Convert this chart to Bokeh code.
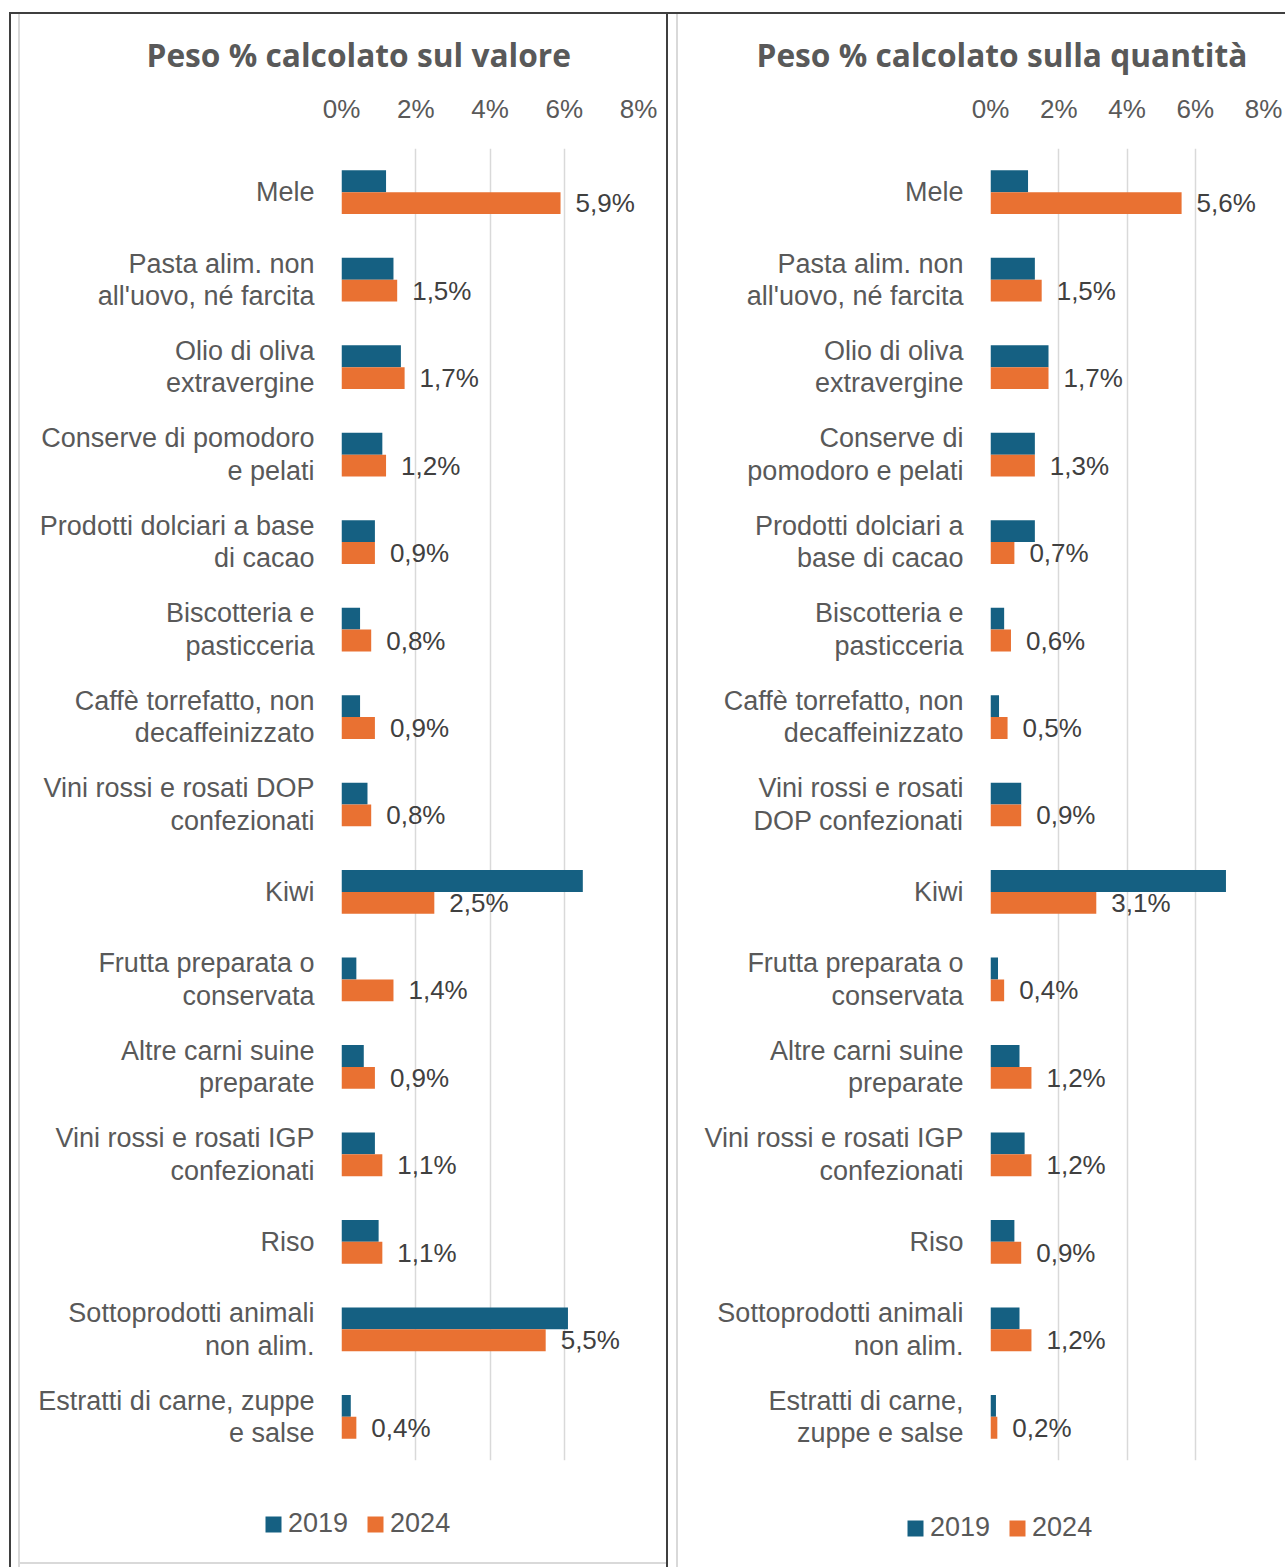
from bokeh.plotting import figure
from bokeh.models import (ColumnDataSource, FactorRange, Range1d, FixedTicker,
                          PrintfTickFormatter, Legend, LegendItem)
from bokeh.transform import dodge
from bokeh.layouts import row, column
from bokeh.embed import file_html
from bokeh.resources import INLINE
from bokeh.core.properties import value

# ---------------- data ----------------
cats_valore = [
    "Mele", "Pasta alim. non\nall'uovo, né farcita", "Olio di oliva\nextravergine",
    "Conserve di pomodoro\ne pelati", "Prodotti dolciari a base\ndi cacao",
    "Biscotteria e\npasticceria", "Caffè torrefatto, non\ndecaffeinizzato",
    "Vini rossi e rosati DOP\nconfezionati", "Kiwi", "Frutta preparata o\nconservata",
    "Altre carni suine\npreparate", "Vini rossi e rosati IGP\nconfezionati", "Riso",
    "Sottoprodotti animali\nnon alim.", "Estratti di carne, zuppe\ne salse",
]
cats_quantita = [
    "Mele", "Pasta alim. non\nall'uovo, né farcita", "Olio di oliva\nextravergine",
    "Conserve di\npomodoro e pelati", "Prodotti dolciari a\nbase di cacao",
    "Biscotteria e\npasticceria", "Caffè torrefatto, non\ndecaffeinizzato",
    "Vini rossi e rosati\nDOP confezionati", "Kiwi", "Frutta preparata o\nconservata",
    "Altre carni suine\npreparate", "Vini rossi e rosati IGP\nconfezionati", "Riso",
    "Sottoprodotti animali\nnon alim.", "Estratti di carne,\nzuppe e salse",
]
valore_2019 = [1.2, 1.4, 1.6, 1.1, 0.9, 0.5, 0.5, 0.7, 6.5, 0.4, 0.6, 0.9, 1.0, 6.1, 0.25]
valore_2024 = [5.9, 1.5, 1.7, 1.2, 0.9, 0.8, 0.9, 0.8, 2.5, 1.4, 0.9, 1.1, 1.1, 5.5, 0.4]
quantita_2019 = [1.1, 1.3, 1.7, 1.3, 1.3, 0.4, 0.25, 0.9, 6.9, 0.22, 0.85, 1.0, 0.7, 0.85, 0.16]
quantita_2024 = [5.6, 1.5, 1.7, 1.3, 0.7, 0.6, 0.5, 0.9, 3.1, 0.4, 1.2, 1.2, 0.9, 1.2, 0.2]
x_ticks = [0, 2, 4, 6, 8]
series_names = ["2019", "2024"]
titles = ["Peso % calcolato sul valore", "Peso % calcolato sulla quantità"]

C19 = "#156082"
C24 = "#E97132"
TXT = "#595959"
VAL = "#404040"
GRID = "#D9D9D9"
DARK = "#3F3F3F"
FONT = "Liberation Sans"
H_MAIN = 1470
H_LEG = 97
FRAME_TOP = 148
FRAME_BOTTOM = 1460


def lines_css(lines):
    """lines: list of (x, y, w, h, color) boxes drawn as CSS background gradients."""
    imgs = ", ".join(f"linear-gradient({c}, {c})" for (_, _, _, _, c) in lines)
    sizes = ", ".join(f"{w}px {h}px" for (_, _, w, h, _) in lines)
    pos = ", ".join(f"{x}px {y}px" for (x, y, _, _, _) in lines)
    return {"background-image": imgs, "background-size": sizes,
            "background-position": pos, "background-repeat": "no-repeat",
            "background-color": "white"}


def make_panel(cats, v19, v24, title, width, fl, fr, title_offset, legend_xy, borders):
    lbl = [f"{v:.1f}".replace(".", ",") + "%" for v in v24]
    src = ColumnDataSource(dict(cat=cats, v19=v19, v24=v24, lbl=lbl))
    p = figure(width=width, height=H_MAIN, output_backend="svg", toolbar_location=None,
               y_range=FactorRange(*reversed(cats), range_padding=0),
               x_range=Range1d(0, 8), x_axis_location="above",
               min_border_left=fl, min_border_right=fr, min_border_top=FRAME_TOP,
               min_border_bottom=H_MAIN - FRAME_BOTTOM)
    p.outline_line_color = None
    p.background_fill_color = "white"
    p.border_fill_color = None

    p.hbar(y=dodge("cat", 0.125, range=p.y_range), right="v19", left=0, height=0.25,
           source=src, fill_color=C19, line_color=None)
    p.hbar(y=dodge("cat", -0.125, range=p.y_range), right="v24", left=0, height=0.25,
           source=src, fill_color=C24, line_color=None)
    p.text(x="v24", y=dodge("cat", -0.125, range=p.y_range), text="lbl", source=src,
           x_offset=15, text_align="left", text_baseline="middle",
           text_font=value(FONT), text_font_size="26px", text_color=VAL)

    # axes
    xa = p.xaxis[0]
    xa.ticker = FixedTicker(ticks=x_ticks)
    xa.formatter = PrintfTickFormatter(format="%d%%")
    xa.axis_line_color = None
    xa.major_tick_line_color = None
    xa.minor_tick_line_color = None
    xa.major_tick_out = 0
    xa.major_label_standoff = 25
    xa.major_label_text_font = FONT
    xa.major_label_text_font_size = "26px"
    xa.major_label_text_color = TXT

    ya = p.yaxis[0]
    ya.axis_line_color = None
    ya.major_tick_line_color = None
    ya.minor_tick_line_color = None
    ya.major_tick_out = 0
    ya.major_label_standoff = 27
    ya.major_label_text_font = FONT
    ya.major_label_text_font_size = "27px"
    ya.major_label_text_color = TXT
    ya.major_label_text_line_height = 1.08

    p.xgrid.ticker = FixedTicker(ticks=x_ticks)
    p.xgrid.grid_line_color = GRID
    p.xgrid.grid_line_width = 1.5
    p.ygrid.grid_line_color = None

    # title
    p.title.text = title
    p.title.align = "left"
    p.title.offset = title_offset
    p.title.standoff = 29
    p.title.text_font = "Open Sans"
    p.title.text_font_style = "bold"
    p.title.text_font_size = "31.7px"
    p.title.text_color = TXT

    # legend strip below the chart (zero-width proxy bars only carry the legend swatches)
    lf = figure(width=width, height=H_LEG, output_backend="svg", toolbar_location=None,
                x_range=Range1d(0, 1), y_range=Range1d(0, 1), min_border=0)
    lf.axis.visible = False
    lf.grid.visible = False
    lf.outline_line_color = None
    lf.background_fill_color = None
    lf.border_fill_color = None
    proxy = ColumnDataSource(dict(y=[0.5], left=[0], right=[0]))
    l19 = lf.hbar(y="y", left="left", right="right", height=0.25, source=proxy,
                  fill_color=C19, line_color=None)
    l24 = lf.hbar(y="y", left="left", right="right", height=0.25, source=proxy,
                  fill_color=C24, line_color=None)
    legend = Legend(items=[LegendItem(label=series_names[0], renderers=[l19]),
                           LegendItem(label=series_names[1], renderers=[l24])],
                    location=legend_xy, orientation="horizontal", glyph_width=20,
                    glyph_height=20, label_standoff=5, spacing=17, padding=0, margin=0,
                    label_text_font=FONT, label_text_font_size="27px", label_text_color=TXT,
                    border_line_color=None, background_fill_alpha=0)
    lf.add_layout(legend)
    return column(p, row(lf, spacing=0), spacing=0, styles=lines_css(borders))


left = make_panel(cats_valore, valore_2019, valore_2024, titles[0], 668, 341, 30,
                  -195, (263, 28),
                  [(9, 12, 2, 1600, DARK), (9, 12, 659, 2, DARK), (666, 12, 2, 1600, DARK),
                   (18, 14, 2, 1600, GRID), (18, 1562, 648, 2, GRID)])
right = make_panel(cats_quantita, quantita_2019, quantita_2024, titles[1], 617, 322, 22,
                   -234, (237, 24),
                   [(0, 12, 617, 2, DARK), (8, 14, 2, 1600, GRID)])

layout = row(left, right, spacing=0)
open("out.html", "w").write(file_html(layout, INLINE))
